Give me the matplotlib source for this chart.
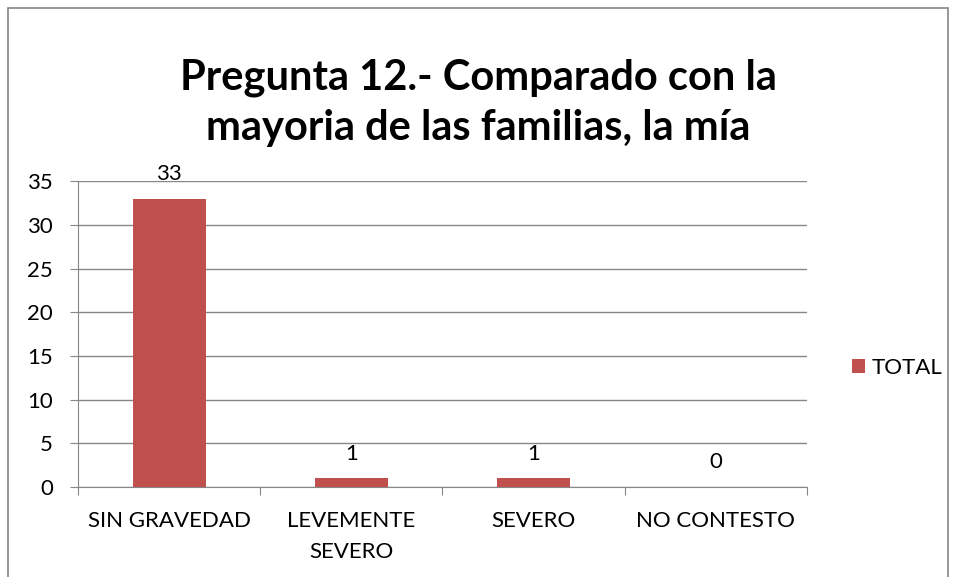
import matplotlib.pyplot as plt
from matplotlib.patches import Rectangle

categorias = ["SIN GRAVEDAD", "LEVEMENTE\nSEVERO", "SEVERO", "NO CONTESTO"]
totales = [33, 1, 1, 0]
yticks = [0, 5, 10, 15, 20, 25, 30, 35]

plt.rcParams["font.family"] = ["Lato", "DejaVu Sans"]

fig = plt.figure(figsize=(9.56, 5.77), dpi=100)
fig.patches.append(Rectangle((0.008, -0.01), 0.984, 0.997, transform=fig.transFigure,
                             fill=False, edgecolor="#868686", linewidth=1.2))

ax = fig.add_axes([0.0816, 0.156, 0.7624, 0.530])
x = range(len(categorias))
barras = ax.bar(x, totales, width=0.4, color="#C0504D", label="TOTAL", zorder=3)
for i, v in enumerate(totales):
    ax.annotate(str(v), (i, v), xytext=(0, 13.5), textcoords="offset points",
                ha="center", va="baseline", fontsize=16)

ax.set_xlim(-0.5, 3.5)
ax.set_ylim(0, 35)
ax.set_yticks(yticks)
ax.set_yticklabels([str(t) for t in yticks], fontsize=16)
ax.grid(axis="y", color="#868686", linewidth=1, zorder=0)
ax.set_xticks([-0.5, 0.5, 1.5, 2.5, 3.5])
ax.set_xticklabels([])
ax.set_xticks(list(x), minor=True)
ax.set_xticklabels(categorias, minor=True, fontsize=16, linespacing=1.7)
ax.tick_params(axis="x", which="minor", length=0, pad=17)
ax.tick_params(axis="x", which="major", length=6, color="#868686")
ax.tick_params(axis="y", length=6, color="#868686", pad=12)
for lado in ["top", "right"]:
    ax.spines[lado].set_visible(False)
ax.spines["left"].set_color("#868686")
ax.spines["bottom"].set_color("#868686")

fig.text(0.5, 0.822, "Pregunta 12.- Comparado con la\nmayoria de las familias, la mía",
         ha="center", va="center", fontsize=30, fontweight="bold", linespacing=1.4)

fig.legend(handles=[barras], labels=["TOTAL"], loc="center left",
           bbox_to_anchor=(0.870, 0.362), frameon=False, fontsize=16,
           handlelength=0.6, handleheight=0.6, handletextpad=0.3)

plt.savefig("out.png", dpi=100)
